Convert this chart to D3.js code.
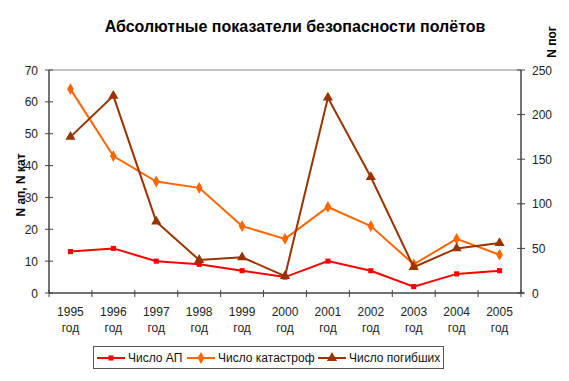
<!DOCTYPE html>
<html><head><meta charset="utf-8">
<script src="https://cdn.jsdelivr.net/npm/d3@7"></script>
<style>body{margin:0;background:#fff}svg{font-family:"Liberation Sans",Arial,sans-serif}</style>
</head><body><svg id="c" width="569" height="381"></svg>
<script>
const years = ["1995","1996","1997","1998","1999","2000","2001","2002","2003","2004","2005"];
const chisloAP = [13,14,10,9,7,5,10,7,2,6,7];
const chisloKat = [64,43,35,33,21,17,27,21,9,17,12];
const chisloPog = [175,221,80,37,40,19,219,130,29,50,56];
const leftTicks = [0,10,20,30,40,50,60,70];
const rightTicks = [0,50,100,150,200,250];

const svg = d3.select("#c");
const L = 49, R = 521, T = 70, B = 293;
const x = d3.scaleBand().domain(years).range([L, R]);
const yL = d3.scaleLinear().domain([0,70]).range([B, T]);
const yR = d3.scaleLinear().domain([0,250]).range([B, T]);
const cx = d => x(d) + x.bandwidth()/2;

svg.append("text").attr("x",295).attr("y",32).attr("text-anchor","middle")
  .attr("font-weight","bold").attr("font-size",16).text("Абсолютные показатели безопасности полётов");

// top gridline
svg.append("line").attr("x1",L).attr("x2",R).attr("y1",yL(70)).attr("y2",yL(70)).attr("stroke","#b0b0b0").attr("stroke-width",1.5);

// left axis
const gl = svg.append("g");
gl.append("line").attr("x1",L).attr("x2",L).attr("y1",T).attr("y2",B).attr("stroke","#444").attr("stroke-width",1.5);
gl.selectAll("line.t").data(leftTicks).join("line").attr("class","t")
  .attr("x1",L-4).attr("x2",L+4).attr("y1",d=>yL(d)).attr("y2",d=>yL(d)).attr("stroke","#444");
gl.selectAll("text").data(leftTicks).join("text").attr("x",L-11).attr("y",d=>yL(d)+4.5)
  .attr("text-anchor","end").attr("font-size",12).attr("fill","#222").text(d=>d);

// right axis
const gr = svg.append("g");
gr.append("line").attr("x1",R).attr("x2",R).attr("y1",T).attr("y2",B).attr("stroke","#444").attr("stroke-width",1.5);
gr.selectAll("line.t").data(rightTicks).join("line").attr("class","t")
  .attr("x1",R-4).attr("x2",R+4).attr("y1",d=>yR(d)).attr("y2",d=>yR(d)).attr("stroke","#444");
gr.selectAll("text").data(rightTicks).join("text").attr("x",R+11).attr("y",d=>yR(d)+4.5)
  .attr("text-anchor","start").attr("font-size",12).attr("fill","#222").text(d=>d);

// bottom axis
const gb = svg.append("g");
gb.append("line").attr("x1",L).attr("x2",R+3).attr("y1",B).attr("y2",B).attr("stroke","#444").attr("stroke-width",1.5);
const bticks = years.map(y=>x(y)).concat([R]);
gb.selectAll("line.t").data(bticks).join("line").attr("class","t")
  .attr("x1",d=>d).attr("x2",d=>d).attr("y1",B-3).attr("y2",B+4).attr("stroke","#444");
const lab = gb.selectAll("text").data(years).join("text").attr("text-anchor","middle").attr("font-size",12).attr("fill","#222");
lab.append("tspan").attr("x",d=>cx(d)).attr("y",316).text(d=>d);
lab.append("tspan").attr("x",d=>cx(d)).attr("y",332).text("год");

// axis titles
svg.append("text").attr("transform","translate(25,185) rotate(-90)").attr("text-anchor","middle")
  .attr("font-weight","bold").attr("font-size",12).text("N ап, N кат");
svg.append("text").attr("transform","translate(556,42) rotate(-90)").attr("text-anchor","middle")
  .attr("font-weight","bold").attr("font-size",12).text("N пог");

const series = [
  {name:"Число АП", vals:chisloAP, y:yL, color:"#FF0000", marker:d3.symbolSquare, size:26},
  {name:"Число катастроф", vals:chisloKat, y:yL, color:"#FF6600", marker:d3.symbolDiamond, size:40},
  {name:"Число погибших", vals:chisloPog, y:yR, color:"#993300", marker:d3.symbolTriangle, size:45}
];
const line = d3.line();
series.forEach(s=>{
  const pts = years.map((yr,i)=>[cx(yr), s.y(s.vals[i])]);
  svg.append("path").attr("d",line(pts)).attr("fill","none").attr("stroke",s.color).attr("stroke-width",2);
  svg.selectAll(null).data(pts).join("path")
    .attr("transform",p=>`translate(${p[0]},${p[1]})`)
    .attr("d",d3.symbol().type(s.marker).size(s.size)).attr("fill",s.color);
});

// legend
const lg = svg.append("g");
lg.append("rect").attr("x",93.5).attr("y",346.5).attr("width",350).attr("height",22).attr("fill","#fff").attr("stroke","#555");
const lx = [97, 187, 318];
series.forEach((s,i)=>{
  lg.append("line").attr("x1",lx[i]).attr("x2",lx[i]+28).attr("y1",358).attr("y2",358).attr("stroke",s.color).attr("stroke-width",2);
  lg.append("path").attr("transform",`translate(${lx[i]+14},358)`).attr("d",d3.symbol().type(s.marker).size(s.size)).attr("fill",s.color);
  lg.append("text").attr("x",lx[i]+31).attr("y",362).attr("font-size",12).attr("fill","#111").text(s.name);
});
</script></body></html>
